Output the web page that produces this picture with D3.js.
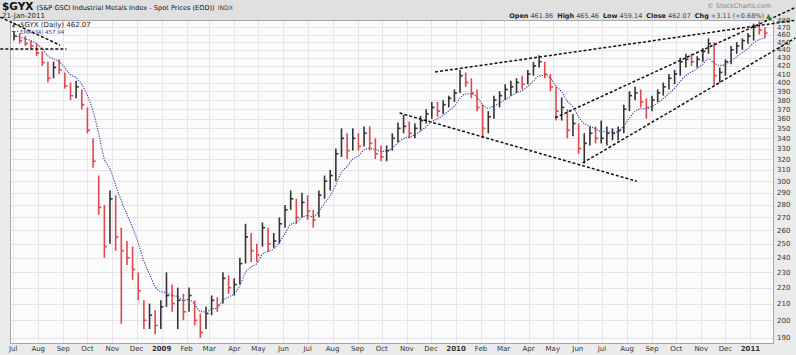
<!DOCTYPE html>
<html>
<head>
<meta charset="utf-8">
<script src="https://cdn.jsdelivr.net/npm/d3@7"></script>
<style>
  body { margin: 0; background: #fff; }
  svg { display: block; font-family: "DejaVu Sans", Verdana, sans-serif; }
</style>
</head>
<body>
<div id="chart"></div>
<script>
const w = 796;
const h = 355;

// weekly bars (week of the given wednesday)
const firstWeek = new Date(2008, 6, 2);
const weekHigh = [465,462,458,452,448,438,425,425,428,412,
  400,402,392,372,340,305,280,292,288,262,
  252,248,230,212,210,206,212,230,222,220,
  216,220,212,204,208,215,214,230,228,226,
  240,265,258,250,266,262,258,270,280,292,
  285,290,288,276,292,305,310,330,350,345,
  350,345,352,352,340,333,333,345,356,364,
  357,355,363,370,378,378,380,385,392,415,
  412,405,392,375,368,385,390,398,402,405,
  408,415,425,433,425,410,395,383,370,365,
  355,345,352,352,358,352,350,352,375,390,
  395,392,382,385,392,400,410,415,430,435,
  435,432,442,455,450,418,428,445,450,455,
  462,475,478,470];
const weekLow = [452,448,445,440,432,420,400,405,410,393,
  380,382,370,345,312,272,240,250,245,198,
  235,225,212,195,195,192,195,208,205,195,
  200,205,197,190,195,203,205,210,216,215,
  222,236,237,237,248,244,247,250,262,276,
  265,270,268,262,270,285,292,300,322,320,
  328,328,332,328,320,318,318,328,336,345,
  340,340,348,355,360,362,365,372,378,388,
  395,382,368,340,345,360,372,380,385,388,
  392,398,408,418,405,390,358,358,340,342,
  325,316,333,335,335,333,338,338,345,368,
  380,372,360,368,378,385,392,398,408,418,
  420,418,425,435,397,400,408,422,435,440,
  448,452,460,455];
const weekClose = [458,452,448,445,436,424,405,418,415,396,
  385,395,375,348,318,278,248,285,255,245,
  240,232,218,200,203,197,208,215,210,212,
  205,215,200,193,204,212,209,226,220,222,
  236,255,245,242,262,250,252,265,276,285,
  270,282,275,268,288,300,305,325,340,328,
  340,332,345,335,325,322,328,340,350,352,
  345,350,358,365,372,368,375,382,388,408,
  400,388,372,350,362,380,385,392,395,400,
  398,410,420,425,410,395,368,372,348,355,
  330,335,345,340,340,345,345,348,370,385,
  388,378,372,380,388,395,405,410,425,428,
  425,428,438,448,408,412,425,440,445,452,
  458,470,466,462.07];

const priceTicks = [190,200,210,220,230,240,250,260,270,280,290,300,310,320,330,
  340,350,360,370,380,390,400,410,420,430,440,450,460,470,480];
const monthLabels = ["Jul","Aug","Sep","Oct","Nov","Dec","2009","Feb","Mar","Apr","May","Jun",
  "Jul","Aug","Sep","Oct","Nov","Dec","2010","Feb","Mar","Apr","May","Jun",
  "Jul","Aug","Sep","Oct","Nov","Dec","2011"];

// hand drawn trend lines: [startDate, startPrice, endDate, endPrice]
const trendLines = [
  [new Date(2008, 5, 15), 484, new Date(2008, 7, 28), 446],
  [new Date(2008, 5, 15), 441, new Date(2008, 8, 5), 441],
  [new Date(2009, 11, 6), 412.5, new Date(2011, 1, 28), 480],
  [new Date(2009, 9, 23), 366, new Date(2010, 7, 13), 300],
  [new Date(2010, 4, 4), 361, new Date(2011, 1, 26), 498],
  [new Date(2010, 5, 7), 316.4, new Date(2011, 1, 26), 455.5]
];

const pLeft = 10, pRight = 773, pTop = 20, pBottom = 343;

const x = d3.scaleTime()
  .domain([new Date(2008, 5, 27), new Date(2011, 0, 29)])
  .range([pLeft, pRight]);
const y = d3.scaleLog()
  .domain([187.2, 480])
  .range([pBottom, pTop]);

const bars = weekClose.map((c, i) => ({
  date: d3.timeDay.offset(firstWeek, 7 * i),
  high: weekHigh[i], low: weekLow[i], close: c,
  up: i === 0 ? true : c >= weekClose[i - 1]
}));

// EMA(34) on daily data ~ 34/5 weeks here
const alpha = 2 / (34 / 5 + 1);
let ema = [];
bars.forEach((d, i) => ema.push(i === 0 ? d.close : ema[i - 1] + alpha * (d.close - ema[i - 1])));

const svg = d3.select("#chart").append("svg")
  .attr("width", w).attr("height", h);

// backgrounds
svg.append("rect").attr("width", w).attr("height", h).attr("fill", "#ebebeb");
svg.append("rect").attr("width", w).attr("height", pTop).attr("fill", "#e0e0e0");
svg.append("rect").attr("x", pLeft).attr("y", pTop)
  .attr("width", pRight - pLeft).attr("height", pBottom - pTop)
  .attr("fill", "#fbfbfc");

const months = d3.timeMonth.range(new Date(2008, 6, 1), new Date(2011, 0, 2));

// grid
svg.append("g").selectAll("line").data(priceTicks).enter().append("line")
  .attr("x1", pLeft).attr("x2", pRight)
  .attr("y1", d => Math.round(y(d)) + 0.5).attr("y2", d => Math.round(y(d)) + 0.5)
  .attr("stroke", "#e4e4ea");
svg.append("g").selectAll("line").data(months).enter().append("line")
  .attr("x1", d => Math.round(x(d)) + 0.5).attr("x2", d => Math.round(x(d)) + 0.5)
  .attr("y1", pTop).attr("y2", pBottom)
  .attr("stroke", "#e4e4ea");

svg.append("rect").attr("x", pLeft + 0.5).attr("y", pTop + 0.5)
  .attr("width", pRight - pLeft).attr("height", pBottom - pTop)
  .attr("fill", "none").attr("stroke", "#a8a8a8");

svg.append("clipPath").attr("id", "plot").append("rect")
  .attr("x", pLeft).attr("y", pTop).attr("width", pRight - pLeft).attr("height", pBottom - pTop);

const plot = svg.append("g").attr("clip-path", "url(#plot)");

// price bars
let barG = plot.append("g").selectAll("g").data(bars).enter().append("g")
  .attr("stroke", d => d.up ? "#333" : "#e0484c")
  .attr("stroke-width", 1.6);
barG.append("line")
  .attr("x1", d => x(d.date)).attr("x2", d => x(d.date))
  .attr("y1", d => y(d.high)).attr("y2", d => y(d.low));
barG.append("line")
  .attr("x1", d => x(d.date)).attr("x2", d => x(d.date) + 2.6)
  .attr("y1", d => y(d.close)).attr("y2", d => y(d.close));

// EMA
plot.append("path")
  .datum(bars)
  .attr("d", d3.line().curve(d3.curveMonotoneX).x(d => x(d.date)).y((d, i) => y(ema[i])))
  .attr("fill", "none")
  .attr("stroke", "#3a3f9a")
  .attr("stroke-width", 1.1)
  .attr("stroke-dasharray", "1.2,1.3");

// trend lines
svg.append("g").selectAll("line").data(trendLines).enter().append("line")
  .attr("x1", d => x(d[0])).attr("y1", d => y(d[1]))
  .attr("x2", d => x(d[2])).attr("y2", d => y(d[3]))
  .attr("stroke", "#111").attr("stroke-width", 1.5)
  .attr("stroke-dasharray", "3,2");

// y axis labels
svg.append("g").selectAll("text").data(priceTicks).enter().append("text")
  .attr("x", pRight + 4).attr("y", d => y(d) + 2.5)
  .attr("font-size", 7).attr("fill", "#333")
  .text(d => d);

// x axis labels
svg.append("g").selectAll("text").data(months).enter().append("text")
  .attr("x", d => x(d)).attr("y", 351)
  .attr("text-anchor", "middle")
  .attr("font-size", 7)
  .attr("font-weight", (d, i) => /^\d/.test(monthLabels[i]) ? "bold" : "normal")
  .attr("fill", "#333")
  .text((d, i) => monthLabels[i]);

// header
let title = svg.append("text").attr("x", 2).attr("y", 10).attr("fill", "#111");
title.append("tspan").attr("font-size", 10.5).attr("font-weight", "bold").text("$GYX");
title.append("tspan").attr("font-size", 6.6).attr("dx", 3).text("(S&P GSCI Industrial Metals Index - Spot Prices (EOD))");
title.append("tspan").attr("font-size", 6.2).attr("dx", 3).attr("fill", "#444").text("INDX");
svg.append("text").attr("x", 2).attr("y", 18).attr("font-size", 7).attr("fill", "#222").text("21-Jan-2011");

svg.append("text").attr("x", 771).attr("y", 8).attr("text-anchor", "end")
  .attr("font-size", 6.5).attr("fill", "#888").text("© StockCharts.com");

const last = bars[bars.length - 1];
let quote = svg.append("text").attr("x", 771).attr("y", 17.5).attr("text-anchor", "end")
  .attr("font-size", 6.5).attr("fill", "#222");
[["Open", "461.86"], ["High", "465.46"], ["Low", "459.14"], ["Close", last.close.toFixed(2)],
 ["Chg", "+3.11 (+0.68%)"]].forEach((p, i) => {
  quote.append("tspan").attr("font-weight", "bold").attr("dx", i ? 4 : 0).text(p[0]);
  quote.append("tspan").attr("dx", 2).attr("fill", "#444").text(p[1]);
});
quote.append("tspan").attr("dx", 2).attr("fill", "#2a8a2a").text("▲");

// legend
let leg = svg.append("g");
leg.append("path").attr("d", "M14,22.5V27.5M12,26H14M14,24H16M17,25H20").attr("stroke", "#222").attr("fill", "none");
leg.append("text").attr("x", 20).attr("y", 27).attr("font-size", 7).attr("fill", "#222")
  .text("$GYX (Daily) " + last.close.toFixed(2));
leg.append("line").attr("x1", 12).attr("x2", 19).attr("y1", 31.5).attr("y2", 31.5)
  .attr("stroke", "#3a3f9a").attr("stroke-dasharray", "1,1.5");
leg.append("text").attr("x", 20).attr("y", 33.5).attr("font-size", 5.5).attr("fill", "#3a3f9a")
  .text("EMA(34) 457.94");
</script>
</body>
</html>
